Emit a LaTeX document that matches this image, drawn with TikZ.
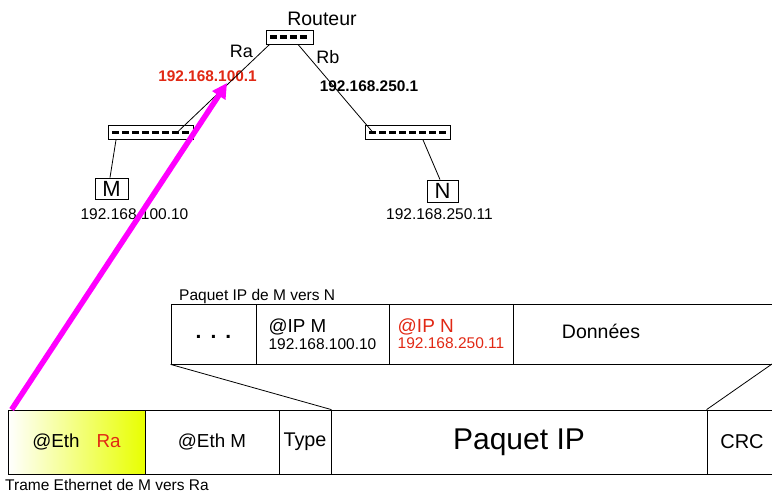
\documentclass[tikz,border=0pt]{standalone}
\usepackage{fontspec}
\setmainfont{Liberation Sans}
\usetikzlibrary{arrows.meta}
\definecolor{addrred}{RGB}{225,40,20}
\definecolor{ethyellow}{RGB}{232,255,0}
\definecolor{arrowpink}{RGB}{255,0,255}

\begin{document}
\begin{tikzpicture}[x=1pt, y=-1pt, >={Triangle[length=15pt, width=15pt]},
    every node/.style={inner sep=0pt, font=\fontsize{15.5}{16}\selectfont},
    portbox/.style={draw, line width=0.8pt, minimum height=14pt, path picture={
        \draw[line width=3.5pt, dash pattern=on 7pt off 3pt]
            ([xshift=4pt]path picture bounding box.west) -- ([xshift=-4pt]path picture bounding box.east);}},
    hostbox/.style={draw, line width=0.8pt, font=\fontsize{22}{22}\selectfont},
    ipcell/.style={draw, line width=0.8pt, minimum height=60pt, align=left},
    ethcell/.style={draw, line width=0.8pt, minimum height=64pt, font=\fontsize{18.8}{19}\selectfont}]
    \useasboundingbox (0,0) rectangle (772,496);
    \clip (0,0) rectangle (772,496);

    % Define network
    \node[portbox, minimum width=47pt] (routeur) at (289.5,37) {};
    \node[portbox, minimum width=85pt] (swL) at (150.5,132.5) {};
    \node[portbox, minimum width=85pt] (swR) at (407.5,132.5) {};
    \node[hostbox, minimum width=33pt, minimum height=21pt] (hostM) at (111.5,188.5) {M};
    \node[hostbox, minimum width=31pt, minimum height=22pt] (hostN) at (442.5,191) {N};
    \coordinate (raport) at (227,83);

    % Network labels
    \node[anchor=base, font=\fontsize{19.5}{20}\selectfont] (rtlabel) at (322,25) {Routeur};
    \node[anchor=base, font=\fontsize{18}{18}\selectfont] (ralabel) at (241.5,57) {Ra};
    \node[anchor=base, font=\fontsize{18}{18}\selectfont] (rblabel) at (328,63) {Rb};
    \node[anchor=base, text=addrred, font=\fontsize{15.4}{16}\selectfont\bfseries] (raip) at (207.5,81) {192.168.100.1};
    \node[anchor=base, font=\fontsize{15.4}{16}\selectfont\bfseries] (rbip) at (369,91) {192.168.250.1};
    \node[anchor=base] (mip) at (134.5,219) {192.168.100.10};
    \node[anchor=base] (nip) at (439.5,219) {192.168.250.11};

    % Draw links
    \draw[line width=0.8pt] ([xshift=4pt]routeur.south west) -- ([xshift=26.5pt]swL.center);
    \draw[line width=0.8pt] ([xshift=8.5pt]routeur.south) -- ([xshift=-34.5pt]swR.center);
    \draw[line width=0.8pt] ([xshift=-34.5pt]swL.south) -- ([xshift=-1.5pt]hostM.north);
    \draw[line width=0.8pt] ([xshift=15.5pt]swR.south) -- ([xshift=-2.5pt]hostN.north);

    % IP packet
    \node[anchor=base west] (iptitle) at (179,300) {Paquet IP de M vers N};
    \node[ipcell, minimum width=85pt, text height=9pt, text depth=0pt, font=\fontsize{21}{21}\selectfont\bfseries] (c1) at (213.5,334) {.\hspace{9pt}.\hspace{9pt}.};
    \node[ipcell, minimum width=133pt] (c2) at (322.5,334) {{\fontsize{18.8}{19}\selectfont @IP M}\\[1pt]192.168.100.10};
    \node[ipcell, minimum width=124pt, text=addrred] (c3) at (451,334) {{\fontsize{19}{19}\selectfont @IP N}\\[0pt]192.168.250.11};
    \node[ipcell, minimum width=277pt] (c4) at (651.5,334) {};
    \node[anchor=base, font=\fontsize{19.5}{20}\selectfont] (donnees) at (601,338) {Données};
    \coordinate (ipcut) at (772,364);

    % Ethernet frame
    \node[ethcell, minimum width=137pt, left color=white, right color=ethyellow] (e1) at (76.5,442) {@Eth\hspace{17pt}\textcolor{addrred}{Ra}};
    \node[ethcell, minimum width=134pt] (e2) at (212,442) {@Eth M};
    \node[ethcell, minimum width=52pt, font=\fontsize{19.8}{20}\selectfont] (e3) at (305,442) {Type};
    \node[ethcell, minimum width=376pt, font=\fontsize{30}{30}\selectfont] (e4) at (519,442) {Paquet IP};
    \node[ethcell, minimum width=70pt, font=\fontsize{20}{20}\selectfont] (e5) at (742,442) {CRC};
    \node[anchor=base west] (ethtitle) at (5,490) {Trame Ethernet de M vers Ra};

    % Draw zoom lines
    \draw[line width=0.8pt] (c1.south west) -- (e3.north east);
    \draw[line width=0.8pt] (ipcut) -- (e5.north west);

    % Draw arrow
    \draw[->, arrowpink, line width=5.5pt] ([xshift=4pt]e1.north west) -- (raport);
\end{tikzpicture}
\end{document}
